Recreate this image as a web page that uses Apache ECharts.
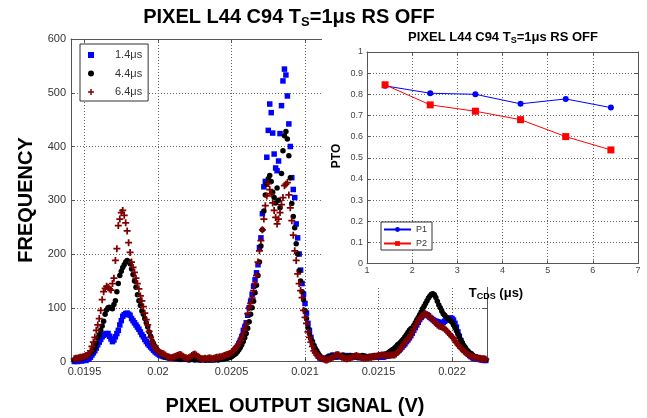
<!DOCTYPE html>
<html><head><meta charset="utf-8">
<script src="https://cdn.jsdelivr.net/npm/echarts@6/dist/echarts.min.js"></script>
<style>html,body{margin:0;padding:0;background:#fff}#c{width:647px;height:418px}</style>
</head><body><div id="c"></div>
<script>
// histogram bin centres (V)
const bins = [
0.01943,0.01944,0.01945,0.01946,0.01947,0.01948,0.01949,0.01950,0.01951,0.01952,
0.01953,0.01954,0.01955,0.01956,0.01957,0.01958,0.01959,0.01960,0.01961,0.01962,
0.01963,0.01964,0.01965,0.01966,0.01967,0.01968,0.01969,0.01970,0.01971,0.01972,
0.01973,0.01974,0.01975,0.01976,0.01977,0.01978,0.01979,0.01980,0.01981,0.01982,
0.01983,0.01984,0.01985,0.01986,0.01987,0.01988,0.01989,0.01990,0.01991,0.01992,
0.01993,0.01994,0.01995,0.01996,0.01997,0.01998,0.01999,0.02000,0.02001,0.02002,
0.02003,0.02004,0.02005,0.02006,0.02007,0.02008,0.02009,0.02010,0.02011,0.02012,
0.02013,0.02014,0.02015,0.02016,0.02017,0.02018,0.02019,0.02020,0.02021,0.02022,
0.02023,0.02024,0.02025,0.02026,0.02027,0.02028,0.02029,0.02030,0.02031,0.02032,
0.02033,0.02034,0.02035,0.02036,0.02037,0.02038,0.02039,0.02040,0.02041,0.02042,
0.02043,0.02044,0.02045,0.02046,0.02047,0.02048,0.02049,0.02050,0.02051,0.02052,
0.02053,0.02054,0.02055,0.02056,0.02057,0.02058,0.02059,0.02060,0.02061,0.02062,
0.02063,0.02064,0.02065,0.02066,0.02067,0.02068,0.02069,0.02070,0.02071,0.02072,
0.02073,0.02074,0.02075,0.02076,0.02077,0.02078,0.02079,0.02080,0.02081,0.02082,
0.02083,0.02084,0.02085,0.02086,0.02087,0.02088,0.02089,0.02090,0.02091,0.02092,
0.02093,0.02094,0.02095,0.02096,0.02097,0.02098,0.02099,0.02100,0.02101,0.02102,
0.02103,0.02104,0.02105,0.02106,0.02107,0.02108,0.02109,0.02110,0.02111,0.02112,
0.02113,0.02114,0.02115,0.02116,0.02117,0.02118,0.02119,0.02120,0.02121,0.02122,
0.02123,0.02124,0.02125,0.02126,0.02127,0.02128,0.02129,0.02130,0.02131,0.02132,
0.02133,0.02134,0.02135,0.02136,0.02137,0.02138,0.02139,0.02140,0.02141,0.02142,
0.02143,0.02144,0.02145,0.02146,0.02147,0.02148,0.02149,0.02150,0.02151,0.02152,
0.02153,0.02154,0.02155,0.02156,0.02157,0.02158,0.02159,0.02160,0.02161,0.02162,
0.02163,0.02164,0.02165,0.02166,0.02167,0.02168,0.02169,0.02170,0.02171,0.02172,
0.02173,0.02174,0.02175,0.02176,0.02177,0.02178,0.02179,0.02180,0.02181,0.02182,
0.02183,0.02184,0.02185,0.02186,0.02187,0.02188,0.02189,0.02190,0.02191,0.02192,
0.02193,0.02194,0.02195,0.02196,0.02197,0.02198,0.02199,0.02200,0.02201,0.02202,
0.02203,0.02204,0.02205,0.02206,0.02207,0.02208,0.02209,0.02210,0.02211,0.02212,
0.02213,0.02214,0.02215,0.02216,0.02217,0.02218,0.02219,0.02220,0.02221,0.02222,
0.02223];

// frequency, T_CDS = 1.4 us
const freq14 = [
0,1,0,1,2,1,2,3,2,4,
5,8,12,16,20,25,31,36,41,46,
49,51,52,52,47,42,37,40,46,52,
58,68,76,84,87,89,90,88,86,80,
76,72,68,64,60,55,50,46,41,37,
33,30,27,24,21,18,16,14,12,11,
10,9,8,8,7,7,7,6,6,6,
5,6,5,4,5,6,5,4,5,4,
5,4,6,5,4,3,4,5,4,3,
4,3,4,5,4,3,4,4,5,4,
5,5,6,7,8,9,11,13,16,20,
24,28,33,39,46,58,64,72,86,100,
112,125,140,152,165,180,212,230,275,325,
335,380,430,479,463,425,386,360,355,373,
424,476,522,544,533,494,442,400,342,320,
305,256,230,200,170,145,125,108,90,71,
58,45,36,28,20,15,10,7,5,4,
5,6,5,8,10,9,12,10,8,10,
9,11,10,8,9,10,11,9,10,8,
9,10,8,9,7,8,9,10,8,9,
8,7,9,8,10,9,8,9,8,9,
8,9,10,10,11,12,13,14,15,17,
19,21,24,27,30,33,37,40,44,48,
53,58,63,68,73,78,82,85,87,88,
87,85,82,80,78,76,75,74,73,72,
72,73,75,77,79,80,81,80,77,71,
64,55,47,39,32,26,21,17,14,11,
9,7,6,5,5,4,4,3,3,2,
2];

// frequency, T_CDS = 4.4 us
const freq44 = [
3,4,5,6,6,5,7,8,9,11,
13,15,18,22,26,34,44,50,58,66,
75,88,96,100,101,99,98,106,113,130,
145,160,168,175,180,185,188,186,182,172,
162,150,138,124,113,104,94,88,80,72,
64,55,47,38,33,28,24,20,17,15,
12,10,9,8,7,7,6,6,5,6,
5,6,4,5,6,5,4,5,3,4,
5,4,3,4,5,4,3,4,5,3,
4,5,3,4,3,4,5,4,3,4,
4,5,5,6,6,7,8,9,11,13,
15,18,22,26,31,37,44,52,62,74,
88,100,112,128,142,160,185,215,245,280,
310,330,340,346,335,315,305,295,323,300,
286,350,392,420,428,414,383,342,294,270,
249,219,200,169,150,130,115,95,80,63,
52,43,36,30,24,20,15,11,8,6,
5,6,8,9,10,8,11,9,10,12,
10,9,11,12,10,9,8,10,11,9,
10,11,9,8,10,9,11,10,9,8,
9,10,9,10,11,10,11,10,11,11,
12,13,14,15,17,19,21,23,25,28,
31,33,36,39,42,46,50,54,58,61,
63,67,72,77,82,87,92,98,103,108,
113,118,122,125,126,124,119,112,105,100,
94,89,86,83,80,78,76,73,68,63,
57,51,45,40,35,30,26,22,19,16,
15,12,10,9,8,7,6,5,4,4,
3];

// frequency, T_CDS = 6.4 us
const freq64 = [
5,6,6,7,8,8,9,10,11,11,
15,20,28,36,45,58,68,80,95,115,
130,136,140,138,135,133,145,155,188,210,
253,265,277,281,272,258,243,221,203,185,
175,166,155,145,135,122,113,102,90,78,
68,56,45,36,30,25,21,19,17,16,
15,14,12,10,9,8,7,8,9,10,
11,12,13,12,10,8,7,6,7,9,
11,13,14,12,10,8,6,5,5,6,
5,6,7,6,5,6,7,8,8,9,
9,10,11,12,13,14,15,17,20,23,
26,29,33,39,45,52,60,70,89,100,
108,118,132,145,160,185,206,225,245,265,
290,308,331,320,312,295,281,268,256,265,
277,292,305,327,330,333,310,286,262,235,
206,188,163,145,132,119,95,82,71,55,
45,36,28,20,16,12,9,7,6,5,
4,3,3,4,5,6,8,10,12,13,
12,10,8,7,6,5,5,6,7,8,
9,10,11,10,9,8,7,6,6,7,
7,8,8,9,9,10,10,11,11,12,
12,12,11,11,11,12,12,12,12,14,
17,20,24,28,32,36,39,42,45,49,
55,61,66,71,76,80,83,86,88,89,
87,85,83,80,77,74,71,68,66,65,
64,63,61,58,55,52,49,46,43,39,
35,31,28,25,22,19,17,15,13,11,
10,9,8,7,7,6,6,5,5,5,
4];

const seriesNames = ['1.4μs', '4.4μs', '6.4μs'];
const xTicks = [0.0195, 0.02, 0.0205, 0.021, 0.0215, 0.022];

// inset: PTO vs T_CDS
const tcds = [1.4, 2.4, 3.4, 4.4, 5.4, 6.4];
const ptoP1 = [0.84, 0.805, 0.80, 0.755, 0.778, 0.737];
const ptoP2 = [0.845, 0.75, 0.72, 0.68, 0.60, 0.537];
const insetNames = ['P1', 'P2'];

const F = '"Liberation Sans", Arial, Helvetica, sans-serif';
const AX = '#555';
const GRIDC = '#666';

const chart = echarts.init(document.getElementById('c'), null, {renderer: 'canvas'});

const pair = (xs, ys) => xs.map((x, i) => [x, ys[i]]);
const plus = 'path://M3,0H5V3H8V5H5V8H3V5H0V3H3Z';
const square = 'path://M0,0H10V10H0Z';

function mirrorAxis(base, extra) { return Object.assign({}, base, extra); }

const mainX = {
  gridIndex: 0, type: 'value', min: 0.019408, max: 0.022238,
  axisLine: {show: true, onZero: false, lineStyle: {color: AX}},
  axisTick: {show: true, inside: true, length: 4, customValues: xTicks, lineStyle: {color: AX}},
  axisLabel: {show: true, customValues: xTicks, fontSize: 11, fontFamily: F, color: '#333', margin: 5,
    formatter: v => String(Number(v.toFixed(5)))},
  splitLine: {show: true, lineStyle: {type: [1, 2], color: GRIDC}}
};
const mainY = {
  gridIndex: 0, type: 'value', min: 0, max: 600, interval: 100,
  axisLine: {show: true, onZero: false, lineStyle: {color: AX}},
  axisTick: {show: true, inside: true, length: 4, lineStyle: {color: AX}},
  axisLabel: {fontSize: 11, fontFamily: F, color: '#333', margin: 5},
  splitLine: {show: true, lineStyle: {type: [1, 2], color: GRIDC}}
};
const inX = {
  gridIndex: 1, type: 'value', min: 1, max: 7, interval: 1, zlevel: 1,
  axisLine: {show: true, onZero: false, lineStyle: {color: AX}},
  axisTick: {show: true, inside: true, length: 3, lineStyle: {color: AX}},
  axisLabel: {fontSize: 9, fontFamily: F, color: '#444', margin: 3},
  splitLine: {show: true, lineStyle: {type: [1, 2], color: GRIDC}}
};
const inY = {
  gridIndex: 1, type: 'value', min: 0, max: 1, interval: 0.1, zlevel: 1,
  axisLine: {show: true, onZero: false, lineStyle: {color: AX}},
  axisTick: {show: true, inside: true, length: 3, lineStyle: {color: AX}},
  axisLabel: {fontSize: 9, fontFamily: F, color: '#444', margin: 4,
    formatter: v => String(Number(v.toFixed(1)))},
  splitLine: {show: true, lineStyle: {type: [1, 2], color: GRIDC}}
};
const hideParts = {axisLabel: {show: false}, splitLine: {show: false}};

chart.setOption({
  animation: false,
  backgroundColor: '#fff',
  grid: [
    {left: 71, top: 39, width: 416, height: 322.5},
    {left: 367, top: 52, width: 271, height: 211.5, zlevel: 1}
  ],
  xAxis: [
    mainX,
    mirrorAxis(mainX, Object.assign({position: 'top'}, hideParts)),
    inX,
    mirrorAxis(inX, Object.assign({position: 'top'}, hideParts))
  ],
  yAxis: [
    mainY,
    mirrorAxis(mainY, Object.assign({position: 'right'}, hideParts)),
    inY,
    mirrorAxis(inY, Object.assign({position: 'right'}, hideParts))
  ],
  legend: [
    {
      data: seriesNames, orient: 'vertical', left: 80, top: 44,
      padding: [4, 6, 2, 8], itemWidth: 38, itemHeight: 6, itemGap: 4.5,
      backgroundColor: '#fff', borderColor: '#333', borderWidth: 1, borderRadius: 0,
      textStyle: {fontSize: 11, fontFamily: F, color: '#333', lineHeight: 14},
      z: 10
    },
    {
      data: insetNames, orient: 'vertical', left: 381, top: 222, zlevel: 1,
      padding: [2, 5, 1, 2], itemWidth: 27, itemHeight: 6, itemGap: 3,
      backgroundColor: '#fff', borderColor: '#333', borderWidth: 1, borderRadius: 0,
      textStyle: {fontSize: 9, fontFamily: F, color: '#333', lineHeight: 11},
      z: 10
    }
  ],
  graphic: [
    {type: 'rect', zlevel: 1, z: -100, shape: {x: 322, y: 30, width: 325, height: 257}, style: {fill: '#fff'}},
    {type: 'text', x: 289, y: 17, zlevel: 1, z: 50, style: {
      text: '{a|PIXEL L44 C94 T}{b|S}{a|=1μs RS OFF}', align: 'center', verticalAlign: 'middle', fill: '#000',
      rich: {a: {fontSize: 20, fontWeight: 'bold', fontFamily: F, lineHeight: 24, fill: '#000'},
             b: {fontSize: 13, fontWeight: 'bold', fontFamily: F, lineHeight: 10, verticalAlign: 'bottom', fill: '#000'}}}},
    {type: 'text', x: 26, y: 200, rotation: Math.PI / 2, style: {
      text: 'FREQUENCY', font: 'bold 20px ' + F, fill: '#000', align: 'center', verticalAlign: 'middle'}},
    {type: 'text', x: 295, y: 406, style: {
      text: 'PIXEL OUTPUT SIGNAL (V)', font: 'bold 20px ' + F, fill: '#000', align: 'center', verticalAlign: 'middle'}},
    {type: 'text', x: 503, y: 37, zlevel: 1, z: 50, style: {
      text: '{a|PIXEL L44 C94 T}{b|S}{a|=1μs RS OFF}', align: 'center', verticalAlign: 'middle', fill: '#000',
      rich: {a: {fontSize: 13, fontWeight: 'bold', fontFamily: F, lineHeight: 16, fill: '#000'},
             b: {fontSize: 9, fontWeight: 'bold', fontFamily: F, lineHeight: 7, verticalAlign: 'bottom', fill: '#000'}}}},
    {type: 'text', x: 337, y: 156, rotation: Math.PI / 2, zlevel: 1, z: 50, style: {
      text: 'PTO', font: 'bold 12px ' + F, fill: '#000', align: 'center', verticalAlign: 'middle'}},
    {type: 'text', x: 496, y: 293, zlevel: 1, z: 50, style: {
      text: '{a|T}{b|CDS}{a| (μs)}', align: 'center', verticalAlign: 'middle', fill: '#000',
      rich: {a: {fontSize: 13, fontWeight: 'bold', fontFamily: F, lineHeight: 16, fill: '#000'},
             b: {fontSize: 9, fontWeight: 'bold', fontFamily: F, lineHeight: 7, verticalAlign: 'bottom', fill: '#000'}}}}
  ],
  series: [
    {name: seriesNames[0], type: 'scatter', xAxisIndex: 0, yAxisIndex: 0, data: pair(bins, freq14),
      symbol: square, symbolSize: 5.5, itemStyle: {color: '#0000ff', opacity: 1}},
    {name: seriesNames[1], type: 'scatter', xAxisIndex: 0, yAxisIndex: 0, data: pair(bins, freq44),
      symbol: 'circle', symbolSize: 5.5, itemStyle: {color: '#000000', opacity: 1}},
    {name: seriesNames[2], type: 'scatter', xAxisIndex: 0, yAxisIndex: 0, data: pair(bins, freq64),
      symbol: plus, symbolSize: 7, itemStyle: {color: '#800000', opacity: 1}},
    {name: insetNames[0], type: 'line', xAxisIndex: 2, yAxisIndex: 2, zlevel: 1, data: pair(tcds, ptoP1),
      symbol: 'circle', symbolSize: 6, showAllSymbol: true,
      lineStyle: {color: '#0000ff', width: 1}, itemStyle: {color: '#0000ff'}},
    {name: insetNames[1], type: 'line', xAxisIndex: 2, yAxisIndex: 2, zlevel: 1, data: pair(tcds, ptoP2),
      symbol: 'rect', symbolSize: 7, showAllSymbol: true,
      lineStyle: {color: '#ff0000', width: 1}, itemStyle: {color: '#ff0000'}}
  ]
});
</script>
</body></html>
